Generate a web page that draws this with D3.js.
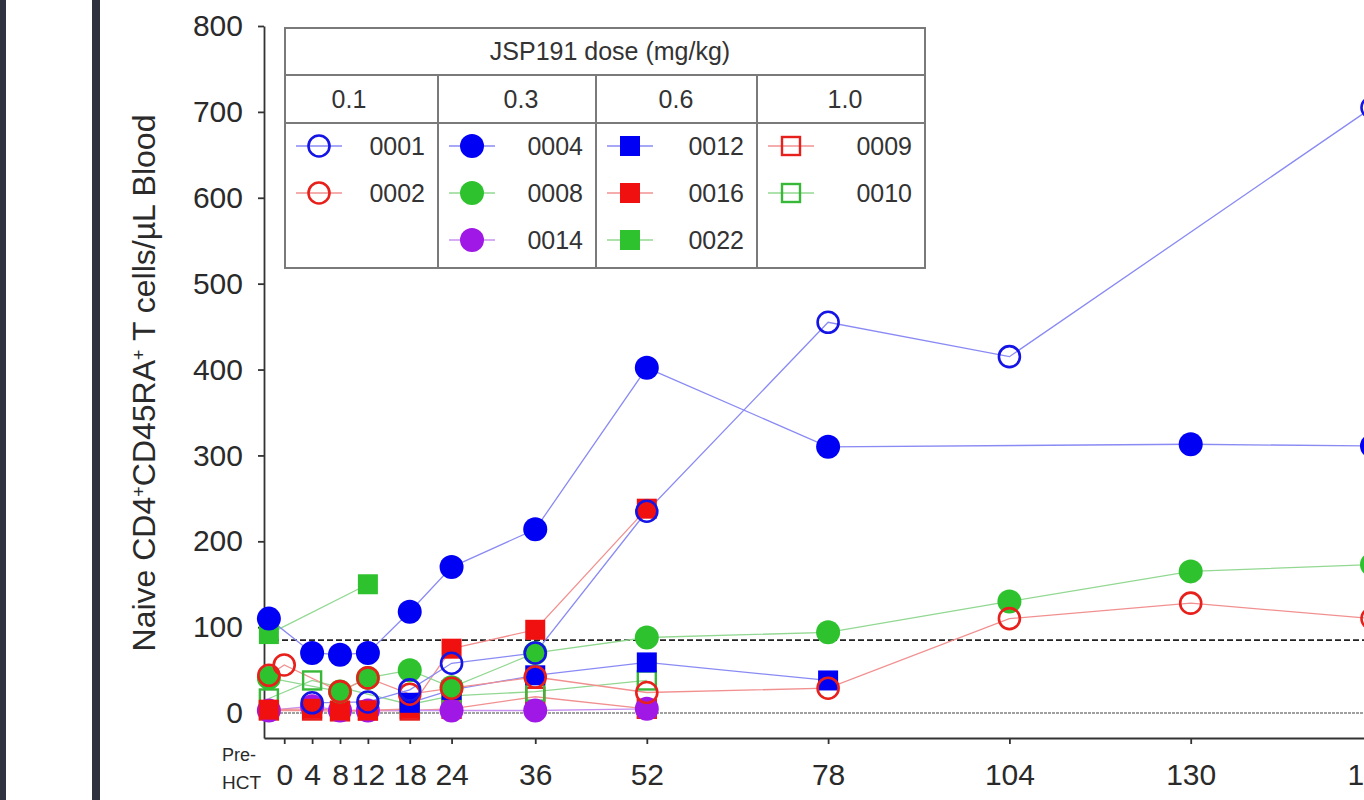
<!DOCTYPE html>
<html>
<head>
<meta charset="utf-8">
<script src="https://cdn.jsdelivr.net/npm/d3@7"></script>
<style>
  body { margin: 0; background: #fff; }
  svg { display: block; font-family: "Liberation Sans", Arial, sans-serif; }
</style>
</head>
<body>
<div id="chart"></div>
<script>
// time points (weeks after HCT), pre-HCT drawn just left of week 0
var timeLabels = ["Pre-HCT", "0", "4", "8", "12", "18", "24", "36", "52", "78", "104", "130", "156"];
var weeks = [-2.2, 0, 4, 8, 12, 18, 24, 36, 52, 78, 104, 130, 156];
var tickWeeks = [0, 4, 8, 12, 18, 24, 36, 52, 78, 104, 130, 156];
var yTicks = [0, 100, 200, 300, 400, 500, 600, 700, 800];

var patients = ["0001", "0002", "0004", "0008", "0014", "0012", "0016", "0022", "0009", "0010"];
var doses    = ["0.1",  "0.1",  "0.3",  "0.3",  "0.3",  "0.6",  "0.6",  "0.6",  "1.0",  "1.0"];
var doseLevels = ["0.1", "0.3", "0.6", "1.0"];

// naive CD4+CD45RA+ T cells / uL, one value per time point (null = no sample)
var p0001 = [null, null, 12, null, 13, 27, 58, 70, 235, 455, 415, null, 705];
var p0002 = [44, 56, null, 25, 41, 22, 29, 42, 24, 29, 110, 128, 110];
var p0004 = [110, null, 70, 68, 70, 118, 170, 214, 402, 310, null, 313, 311];
var p0008 = [41, null, null, 25, 41, 50, 30, 70, 88, 94, 130, 165, 173];
var p0014 = [3, null, 8, 3, 3, null, 3, 3, 5, null, null, null, null];
var p0012 = [null, null, null, null, null, 12, 27, 44, 59, 38, null, null, null];
var p0016 = [4, null, 5, 3, 3, 5, 75, 97, 238, null, null, null, null];
var p0022 = [92, null, null, null, 150, null, null, null, null, null, null, null, null];
var p0009 = [3, null, 3, 2, 3, 3, 5, 19, 5, null, null, null, null];
var p0010 = [17, null, 38, null, null, 10, 20, 25, 38, null, null, null, null];

var threshold = 85;

var values = {"0001": p0001, "0002": p0002, "0004": p0004, "0008": p0008, "0014": p0014,
              "0012": p0012, "0016": p0016, "0022": p0022, "0009": p0009, "0010": p0010};

// marker style per patient
var style = {
  "0001": {shape: "circle", color: "#1414e6", line: "#8a8af5", open: true},
  "0002": {shape: "circle", color: "#e8201c", line: "#f29090", open: true},
  "0004": {shape: "circle", color: "#0000f5", line: "#8a8af5", open: false},
  "0008": {shape: "circle", color: "#2ec22e", line: "#92d892", open: false},
  "0014": {shape: "circle", color: "#a018e6", line: "#c890f0", open: false},
  "0012": {shape: "square", color: "#0000f5", line: "#8a8af5", open: false},
  "0016": {shape: "square", color: "#f01010", line: "#f29090", open: false},
  "0022": {shape: "square", color: "#2ec22e", line: "#92d892", open: false},
  "0009": {shape: "square", color: "#e8201c", line: "#f29090", open: true},
  "0010": {shape: "square", color: "#38b838", line: "#92d892", open: true}
};
var drawOrder = ["0009", "0010", "0014", "0022", "0016", "0012", "0008", "0004", "0002", "0001"];

var W = 1364, H = 800;
var svg = d3.select("#chart").append("svg").attr("width", W).attr("height", H);

// frame bars on the left of the screenshot
svg.append("rect").attr("x", 0).attr("y", 0).attr("width", 6).attr("height", H).attr("fill", "#2f3340");
svg.append("rect").attr("x", 92).attr("y", 0).attr("width", 8).attr("height", H).attr("fill", "#2f3340");

var x = d3.scaleLinear().domain([-2.9, 156]).range([264, 1372]);
var y = d3.scaleLinear().domain([-29, 800]).range([738, 26]);

// y axis
var yAxis = svg.append("g")
  .attr("transform", "translate(" + x(-2.9) + ",0)")
  .call(d3.axisLeft(y).tickValues(yTicks).tickSize(6).tickSizeOuter(0).tickPadding(15));
yAxis.selectAll("text").attr("font-size", 30).attr("fill", "#2a2a2a").attr("font-family", "Liberation Sans, Arial");
yAxis.selectAll("line, path").attr("stroke", "#333").attr("stroke-width", 1.8);

// x axis
var xAxis = svg.append("g")
  .attr("transform", "translate(0," + y(-29) + ")")
  .call(d3.axisBottom(x).tickValues(tickWeeks).tickSize(6).tickSizeOuter(0).tickPadding(20));
xAxis.selectAll("text").attr("font-size", 30).attr("fill", "#2a2a2a").attr("font-family", "Liberation Sans, Arial");
xAxis.selectAll("line, path").attr("stroke", "#333").attr("stroke-width", 1.8);

svg.append("text").attr("x", 222).attr("y", 761).attr("font-size", 18).attr("fill", "#2a2a2a").text("Pre-");
svg.append("text").attr("x", 222).attr("y", 789).attr("font-size", 19).attr("fill", "#2a2a2a").text("HCT");

// y title
var title = svg.append("text")
  .attr("transform", "translate(155," + 383 + ") rotate(-90)")
  .attr("text-anchor", "middle")
  .attr("font-size", 32)
  .attr("fill", "#2a2a2a");
title.append("tspan").text("Naive CD4");
title.append("tspan").attr("baseline-shift", "super").attr("font-size", 18).text("+");
title.append("tspan").text("CD45RA");
title.append("tspan").attr("baseline-shift", "super").attr("font-size", 18).text("+");
title.append("tspan").text(" T cells/\u00b5L Blood");

// reference lines
svg.append("line")
  .attr("x1", x(-2.9)).attr("x2", W).attr("y1", y(0)).attr("y2", y(0))
  .attr("stroke", "#a0a0a0").attr("stroke-width", 2).attr("stroke-dasharray", "3,1");
svg.append("line")
  .attr("x1", x(-2.9)).attr("x2", W).attr("y1", y(threshold)).attr("y2", y(threshold))
  .attr("stroke", "#222").attr("stroke-width", 1.6).attr("stroke-dasharray", "6,3");

// series lines
var line = d3.line()
  .x(function(d) { return x(d.w); })
  .y(function(d) { return y(d.v); });

function seriesPoints(id) {
  return values[id].map(function(v, i) { return {w: weeks[i], v: v}; })
    .filter(function(d) { return d.v != null; });
}

drawOrder.forEach(function(id) {
  svg.append("path")
    .datum(seriesPoints(id))
    .attr("d", line)
    .attr("fill", "none")
    .attr("stroke", style[id].line)
    .attr("stroke-width", 1.3);
});

function drawMarker(g, id, cx, cy, scale) {
  var s = style[id];
  scale = scale || 1;
  if (s.shape == "circle") {
    g.append("circle")
      .attr("cx", cx).attr("cy", cy)
      .attr("r", (s.open ? 10.5 : 12) * scale)
      .attr("fill", s.open ? "none" : s.color)
      .attr("stroke", s.color)
      .attr("stroke-width", s.open ? 2.6 : 0);
  } else {
    var half = (s.open ? 9 : 10) * scale;
    g.append("rect")
      .attr("x", cx - half).attr("y", cy - half)
      .attr("width", half * 2).attr("height", half * 2)
      .attr("fill", s.open ? "none" : s.color)
      .attr("stroke", s.color)
      .attr("stroke-width", s.open ? 2.4 : 0);
  }
}

var marks = svg.append("g");
drawOrder.forEach(function(id) {
  seriesPoints(id).forEach(function(d) {
    drawMarker(marks, id, x(d.w), y(d.v));
  });
});

// legend table
var tbl = {left: 285, right: 925, top: 28, head: 75, sub: 123, bottom: 268};
var colEdges = [285, 438, 596, 757, 925];
var doseX = [349, 521, 676, 845];
var leg = svg.append("g");
leg.append("rect")
  .attr("x", tbl.left).attr("y", tbl.top)
  .attr("width", tbl.right - tbl.left).attr("height", tbl.bottom - tbl.top)
  .attr("fill", "#fff").attr("stroke", "#7a7a7a").attr("stroke-width", 2);
[tbl.head, tbl.sub].forEach(function(yy) {
  leg.append("line").attr("x1", tbl.left).attr("x2", tbl.right).attr("y1", yy).attr("y2", yy)
    .attr("stroke", "#7a7a7a").attr("stroke-width", 2);
});
colEdges.slice(1, -1).forEach(function(xx) {
  leg.append("line").attr("x1", xx).attr("x2", xx).attr("y1", tbl.head).attr("y2", tbl.bottom)
    .attr("stroke", "#7a7a7a").attr("stroke-width", 2);
});
leg.append("text")
  .attr("x", 610).attr("y", 60)
  .attr("text-anchor", "middle").attr("font-size", 25).attr("fill", "#333")
  .text("JSP191 dose (mg/kg)");

doseLevels.forEach(function(dose, c) {
  var L = colEdges[c], R = colEdges[c + 1];
  leg.append("text")
    .attr("x", doseX[c]).attr("y", 108)
    .attr("text-anchor", "middle").attr("font-size", 25).attr("fill", "#333")
    .text(dose);
  var ids = patients.filter(function(p, i) { return doses[i] == dose; });
  ids.forEach(function(id, r) {
    var cy = 146 + r * 47;
    var mx = L + 34;
    leg.append("line")
      .attr("x1", mx - 23).attr("x2", mx + 23).attr("y1", cy).attr("y2", cy)
      .attr("stroke", style[id].line).attr("stroke-width", 1.3);
    drawMarker(leg, id, mx, cy, 1);
    leg.append("text")
      .attr("x", R - 13).attr("y", cy + 9)
      .attr("text-anchor", "end").attr("font-size", 25).attr("fill", "#333")
      .text(id);
  });
});
</script>
</body>
</html>
